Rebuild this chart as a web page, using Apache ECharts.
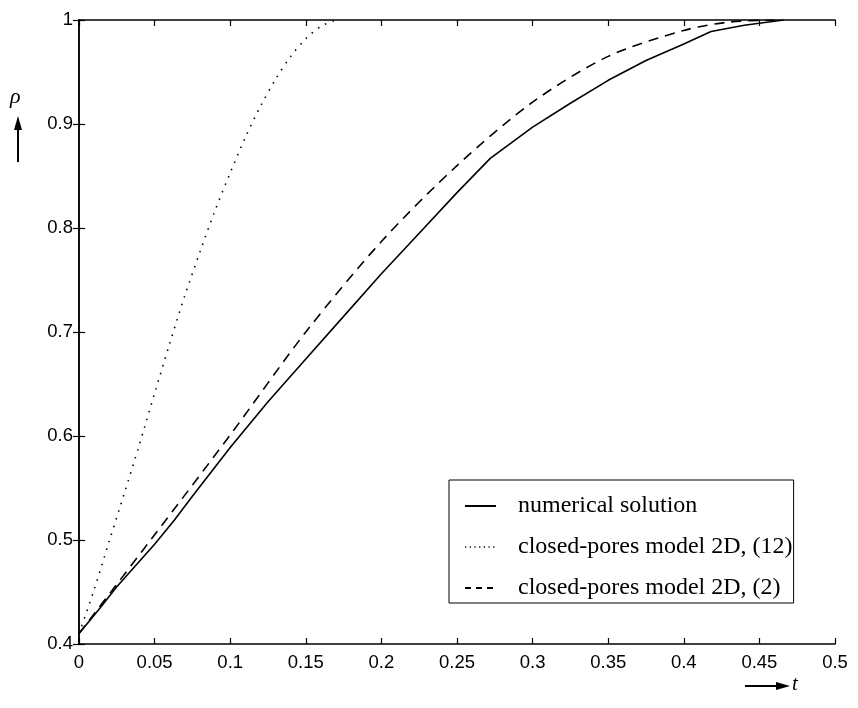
<!DOCTYPE html>
<html>
<head>
<meta charset="utf-8">
<script src="https://cdn.jsdelivr.net/npm/echarts@6/dist/echarts.min.js"></script>
<style>
  html, body { margin: 0; padding: 0; background: #fff; }
  #chart { width: 858px; height: 708px; }
</style>
</head>
<body>
<div id="chart"></div>
<script>
// 数据
const seriesNames = ['numerical solution', 'closed-pores model 2D, (12)', 'closed-pores model 2D, (2)']

const tNumerical = [0, 0.013, 0.025, 0.05, 0.063, 0.075, 0.1, 0.125, 0.15, 0.175, 0.2, 0.225, 0.25, 0.272, 0.3, 0.325, 0.35, 0.375, 0.4, 0.418, 0.44, 0.466]
const rhoNumerical = [0.41, 0.433, 0.455, 0.496, 0.519, 0.542, 0.589, 0.633, 0.674, 0.715, 0.756, 0.795, 0.834, 0.867, 0.897, 0.920, 0.942, 0.961, 0.977, 0.989, 0.995, 1.0]

const tClosed12 = [0, 0.01, 0.02, 0.03, 0.04, 0.05, 0.06, 0.07, 0.08, 0.09, 0.10, 0.11, 0.12, 0.13, 0.14, 0.15, 0.16, 0.17]
const rhoClosed12 = [0.41, 0.452, 0.499, 0.545, 0.592, 0.641, 0.689, 0.735, 0.777, 0.817, 0.853, 0.887, 0.917, 0.943, 0.965, 0.982, 0.994, 1.0]

const tClosed2 = [0, 0.05, 0.1, 0.15, 0.2, 0.25, 0.3, 0.35, 0.4, 0.43, 0.46]
const rhoClosed2 = [0.41, 0.505, 0.601, 0.700, 0.787, 0.860, 0.921, 0.965, 0.990, 0.998, 1.0]

const pairs = (xs, ys) => xs.map((x, i) => [x, ys[i]])

const labelFont = { fontFamily: 'Liberation Sans', fontSize: 18.5, color: '#000' }
const fmt = v => String(+v.toFixed(2))

const chart = echarts.init(document.getElementById('chart'))

const frameLine = { color: '#000', width: 1.5 }
const frameTick = { show: true, inside: true, length: 6, lineStyle: { color: '#000', width: 1.2 } }

const option = {
  backgroundColor: '#fff',
  animation: false,
  color: ['#000', '#000', '#000'],
  grid: { left: 79, right: 23, top: 20, bottom: 64 },
  xAxis: [
    {
      type: 'value',
      min: 0,
      max: 0.5,
      interval: 0.05,
      axisLine: { lineStyle: frameLine },
      axisTick: frameTick,
      axisLabel: { ...labelFont, margin: 9, formatter: fmt },
      splitLine: { show: false }
    },
    {
      type: 'value',
      position: 'top',
      min: 0,
      max: 0.5,
      interval: 0.05,
      axisLine: { show: true, lineStyle: frameLine },
      axisTick: frameTick,
      axisLabel: { show: false },
      splitLine: { show: false }
    }
  ],
  yAxis: [
    {
      type: 'value',
      min: 0.4,
      max: 1,
      interval: 0.1,
      axisLine: { show: true, lineStyle: frameLine },
      axisTick: frameTick,
      axisLabel: { ...labelFont, margin: 6, formatter: fmt },
      splitLine: { show: false }
    },
    {
      type: 'value',
      position: 'right',
      min: 0.4,
      max: 1,
      interval: 0.1,
      axisLine: { show: true, lineStyle: frameLine },
      axisTick: frameTick,
      axisLabel: { show: false },
      splitLine: { show: false }
    }
  ],
  legend: {
    orient: 'vertical',
    left: 449,
    top: 480,
    padding: [14, 1, 3, 15],
    borderColor: '#000',
    borderWidth: 1,
    itemWidth: 31,
    itemHeight: 20,
    itemGap: 17,
    itemStyle: { opacity: 0 },
    textStyle: { fontFamily: 'Liberation Serif', fontSize: 24, color: '#000', padding: [0, 0, 0, 17] },
    data: [
      { name: seriesNames[0] },
      { name: seriesNames[1], lineStyle: { type: [1.2, 3.5], width: 1.4 } },
      { name: seriesNames[2], lineStyle: { type: [6, 5] } }
    ]
  },
  series: [
    {
      name: seriesNames[0],
      type: 'line',
      data: pairs(tNumerical, rhoNumerical),
      showSymbol: false,
      symbol: 'none',
      lineStyle: { color: '#000', width: 1.6, type: 'solid' }
    },
    {
      name: seriesNames[1],
      type: 'line',
      data: pairs(tClosed12, rhoClosed12),
      showSymbol: false,
      symbol: 'none',
      smooth: 0.3,
      lineStyle: { color: '#000', width: 1.6, type: [1.5, 6.5] }
    },
    {
      name: seriesNames[2],
      type: 'line',
      data: pairs(tClosed2, rhoClosed2),
      showSymbol: false,
      symbol: 'none',
      smooth: 0.3,
      lineStyle: { color: '#000', width: 1.6, type: [10, 7] }
    }
  ],
  graphic: [
    // 纵轴名 ρ 和向上箭头
    {
      type: 'text',
      left: 10,
      top: 86,
      style: { text: 'ρ', font: 'italic 22px "Liberation Serif"', fill: '#000' }
    },
    {
      type: 'line',
      shape: { x1: 18, y1: 162, x2: 18, y2: 128 },
      style: { stroke: '#000', lineWidth: 2 }
    },
    {
      type: 'polygon',
      shape: { points: [[18, 116], [14, 130], [22, 130]] },
      style: { fill: '#000' }
    },
    // 横轴名 t 和向右箭头
    {
      type: 'line',
      shape: { x1: 745, y1: 686, x2: 778, y2: 686 },
      style: { stroke: '#000', lineWidth: 2 }
    },
    {
      type: 'polygon',
      shape: { points: [[790, 686], [776, 682], [776, 690]] },
      style: { fill: '#000' }
    },
    {
      type: 'text',
      left: 792,
      top: 674,
      style: { text: 't', font: 'italic 21px "Liberation Serif"', fill: '#000' }
    }
  ]
}

chart.setOption(option)
</script>
</body>
</html>
